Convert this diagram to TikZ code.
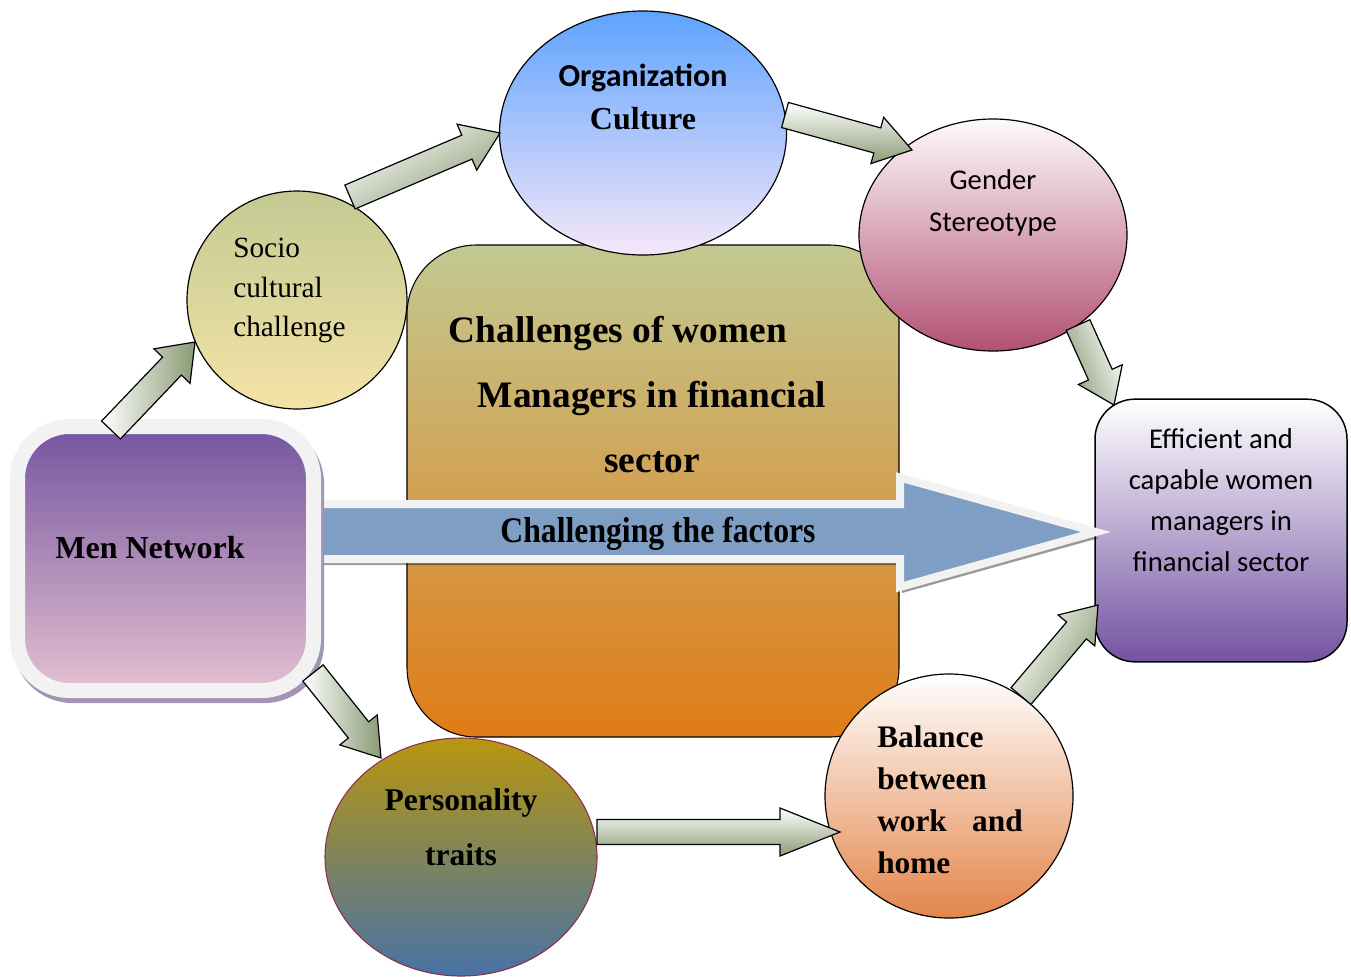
\documentclass[tikz,border=0pt]{standalone}
\usepackage{fontspec}
\usepackage{graphicx}
\setmainfont{Liberation Serif}
\newfontfamily\carlito{Carlito}
\usetikzlibrary{calc,shapes.geometric}
\definecolor{arrgreen}{HTML}{8A9B74}
\definecolor{bigblue}{HTML}{7F9EC4}
\definecolor{frame}{HTML}{F2F2F2}
\tikzset{
  blob/.style={ellipse, draw=black, line width=0.9pt, inner sep=0pt},
  barrow/.style={draw=black, line width=0.9pt, line join=miter, top color=white, bottom color=arrgreen},
  lbl/.style={inner sep=0pt, text=black},
}
\newcommand\blockarrow[7]{%
  \coordinate (#1c) at ($(#3)!#6!(#2)$);
  \path[barrow, shading angle=#7] ($(#2)!#4!90:(#3)$) -- ($(#1c)!#4!90:(#3)$) -- ($(#1c)!#5!90:(#3)$) -- (#3)
     -- ($(#1c)!#5!-90:(#3)$) -- ($(#1c)!#4!-90:(#3)$) -- ($(#2)!#4!-90:(#3)$) -- cycle;
}
\begin{document}
\begin{tikzpicture}[x=0.75pt,y=-0.75pt]
\useasboundingbox (0,0) rectangle (1351,976);

% central block
\node[draw=black, line width=0.8pt, rounded corners=52pt, minimum width=369pt, minimum height=369pt,
      top color={rgb,255:red,195;green,201;blue,146}, middle color={rgb,255:red,207;green,174;blue,116},
      bottom color={rgb,255:red,224;green,123;blue,22}] (core) at (653,491) {};
\node[lbl, font=\bfseries\fontsize{28}{34}\selectfont] (c1) at (618,333.5) {Challenges of women};
\node[lbl, font=\bfseries\fontsize{28}{34}\selectfont] (c2) at (652,398.5) {Managers in financial};
\node[lbl, font=\bfseries\fontsize{28}{34}\selectfont] (c3) at (652,462.5) {sector};

% efficient box
\node[draw=black, line width=1.1pt, rounded corners=30pt, minimum width=189pt, minimum height=197pt,
      top color=white, middle color={rgb,255:red,244;green,241;blue,246},
      bottom color={rgb,255:red,116;green,83;blue,162}] (eff) at (1221,530.5) {};
\node[lbl, align=center, font=\carlito\fontsize{21.5}{30.75}\selectfont] (efftxt) at (1221,500.5)
  {Efficient and\\capable women\\managers in\\financial sector};

% big arrow
\fill[black, opacity=0.4] (300,509) -- (902,509) -- (902,482) -- (1099,538) -- (902,593) -- (902,565) -- (300,565) -- cycle;
\path[fill=bigblue, draw=frame, line width=6pt, line join=miter, miter limit=10]
  (300,504) -- (900,504) -- (900,477.5) -- (1096,532) -- (900,587) -- (900,559) -- (300,559) -- cycle;
\node[lbl, font=\bfseries\fontsize{27}{30}\selectfont] (bigtxt) at (658,534) {\scalebox{0.88}[1]{Challenging the factors}};

% men network box
\node[fill={rgb,255:red,163;green,147;blue,181}, draw={rgb,255:red,163;green,147;blue,181}, line width=11.25pt,
      rounded corners=39pt, minimum width=222pt, minimum height=198pt] (menshadow) at (168.5,563.5) {};
\node[draw=frame, line width=11.25pt, rounded corners=39pt, minimum width=222pt, minimum height=198pt,
      top color={rgb,255:red,116;green,85;blue,160}, middle color={rgb,255:red,179;green,148;blue,185},
      bottom color={rgb,255:red,228;green,192;blue,208}] (men) at (165.5,558.5) {};
\node[lbl, font=\bfseries\fontsize{24}{30}\selectfont] (mentxt) at (150,548) {Men Network};

% ellipses
\node[blob, minimum width=215.25pt, minimum height=183pt,
      top color={rgb,255:red,94;green,163;blue,255}, middle color={rgb,255:red,160;green,198;blue,245},
      bottom color={rgb,255:red,246;green,231;blue,248}] (org) at (643,133) {};
\node[lbl, align=center, font=\fontsize{24}{32}\selectfont] (orgtxt) at (643,97)
  {{\carlito\bfseries Organization}\\{\bfseries Culture}};

\node[blob, minimum width=201pt, minimum height=174pt,
      top color={rgb,255:red,254;green,250;blue,252}, middle color={rgb,255:red,230;green,204;blue,213},
      bottom color={rgb,255:red,178;green,80;blue,115}] (gender) at (993,235) {};
\node[lbl, align=center, font=\carlito\fontsize{21.5}{31.5}\selectfont] (gentxt) at (993,202.5)
  {Gender\\Stereotype};

\node[blob, minimum width=165pt, minimum height=163.5pt,
      top color={rgb,255:red,195;green,202;blue,146}, middle color={rgb,255:red,220;green,216;blue,157},
      bottom color={rgb,255:red,245;green,227;blue,166}] (socio) at (297,300) {};
\node[lbl, align=left, anchor=west, font=\fontsize{22}{29.5}\selectfont] (sociotxt) at (233,290.5)
  {Socio\\cultural\\challenge};

\node[ellipse, inner sep=0pt, draw={rgb,255:red,140;green,47;blue,74}, line width=0.8pt,
      minimum width=204pt, minimum height=178.5pt,
      top color={rgb,255:red,184;green,150;blue,15}, middle color={rgb,255:red,138;green,136;blue,112},
      bottom color={rgb,255:red,72;green,114;blue,166}] (pers) at (461,857) {};
\node[lbl, align=center, font=\bfseries\fontsize{23.7}{41}\selectfont] (perstxt) at (461,827)
  {Personality\\traits};

\node[blob, minimum width=186pt, minimum height=183pt,
      top color=white, middle color={rgb,255:red,245;green,208;blue,189},
      bottom color={rgb,255:red,227;green,133;blue,74}] (bal) at (949,796) {};
\node[lbl, align=left, anchor=west, font=\bfseries\fontsize{23.5}{31.5}\selectfont] (baltxt) at (877,800)
  {Balance\\between\\work\hspace{19pt}and\\home};

% small arrows
\coordinate (a1s) at (111,430);  \coordinate (a1e) at (195,342);
\coordinate (a2s) at (350,197);  \coordinate (a2e) at (500,133);
\coordinate (a3s) at (785,115);  \coordinate (a3e) at (912,150);
\coordinate (a4s) at (1078,325); \coordinate (a4e) at (1114,405);
\coordinate (a5s) at (313,673);  \coordinate (a5e) at (381,758);
\coordinate (a6s) at (597,832);  \coordinate (a6e) at (840,832);
\coordinate (a7s) at (1021,696); \coordinate (a7e) at (1098,605);

\blockarrow{a1}{a1s}{a1e}{9.75pt}{18.75pt}{25pt}{90}
\blockarrow{a2}{a2s}{a2e}{9.75pt}{18.75pt}{27pt}{30}
\blockarrow{a3}{a3s}{a3e}{9.75pt}{18pt}{27pt}{0}
\blockarrow{a4}{a4s}{a4e}{9.75pt}{18pt}{25pt}{-70}
\blockarrow{a5}{a5s}{a5e}{9.75pt}{18pt}{27pt}{90}
\blockarrow{a6}{a6s}{a6e}{9.4pt}{18pt}{45pt}{0}
\blockarrow{a7}{a7s}{a7e}{9.75pt}{18pt}{25pt}{60}
\end{tikzpicture}
\end{document}
